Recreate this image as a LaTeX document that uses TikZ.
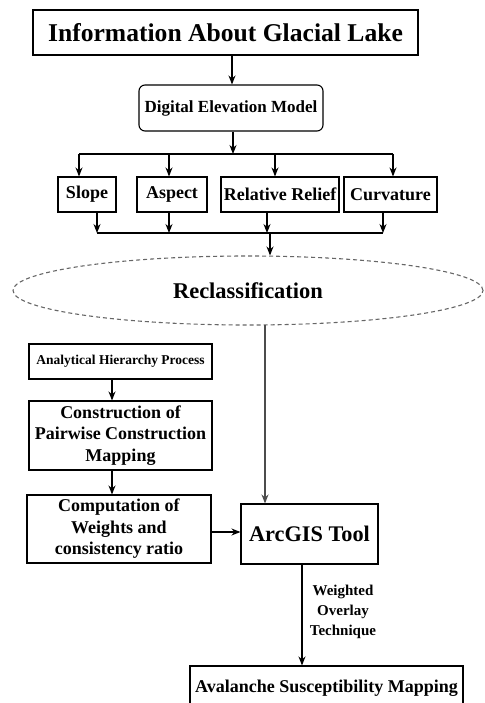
\documentclass[tikz,border=0pt]{standalone}
\usepackage{fontspec}
\setmainfont{Liberation Serif}
\usetikzlibrary{arrows.meta,shapes.geometric}

\begin{document}
\begin{tikzpicture}[x=1pt,y=-1pt,
  box/.style={draw,line width=1.1pt,inner sep=0pt,align=center},
  txt/.style={font=\bfseries\fontsize{#1}{#1}\selectfont},
  >={Stealth[length=9pt,width=7pt]}]
\useasboundingbox (0,0) rectangle (484,703);
\clip (0,0) rectangle (484,703);

\node[box,txt=25.6,minimum width=385,minimum height=45] (info) at (225.5,32.5) {Information About Glacial Lake};
\node[box,txt=17,rounded corners=6pt,minimum width=184,minimum height=46] (dem) at (231,108) {Digital Elevation Model};

\node[box,txt=18,minimum width=58,minimum height=35] (slope) at (87,194.5) {Slope};
\node[box,txt=18,minimum width=70,minimum height=35] (aspect) at (172,194.5) {Aspect};
\node[box,txt=18,minimum width=118,minimum height=35] (relief) at (280,194.5) {Relative Relief};
\node[box,txt=18,minimum width=93,minimum height=35] (curv) at (390.5,194.5) {Curvature};

\node[draw=gray!80!black,dash pattern=on 4pt off 3pt,line width=1.1pt,ellipse,
  minimum width=470,minimum height=69,txt=22.5] (recl) at (248,290.5) {Reclassification};

\node[box,txt=13.5,minimum width=183,minimum height=35] (ahp) at (120.5,361.5) {Analytical Hierarchy Process};
\node[box,font=\bfseries\fontsize{18}{21.5}\selectfont,minimum width=183,minimum height=69] (cons) at (120.5,435.5) {Construction of\\Pairwise Construction\\Mapping};
\node[box,font=\bfseries\fontsize{18}{21.5}\selectfont,minimum width=184,minimum height=68] (comp) at (119,529) {Computation of\\Weights and\\consistency ratio};
\node[box,txt=22.3,minimum width=137,minimum height=60] (arc) at (309.5,534) {ArcGIS Tool};
\node[box,txt=18,minimum width=273,minimum height=44] (final) at (326.5,688) {Avalanche Susceptibility Mapping};
\node[font=\bfseries\fontsize{15}{20}\selectfont,align=center] (wot) at (343,612) {Weighted\\Overlay\\Technique};

\coordinate (top) at (232,0);
\coordinate (split) at (233,154);
\coordinate (s1) at (79,154);
\coordinate (s2) at (169,154);
\coordinate (s3) at (275,154);
\coordinate (s4) at (393,154);
\coordinate (m1) at (97,233);
\coordinate (m2) at (169,233);
\coordinate (m3) at (267,233);
\coordinate (m4) at (383,233);
\coordinate (merge) at (270,233);
\coordinate (down) at (265,325);
\coordinate (left) at (112,0);
\coordinate (side) at (0,532);
\coordinate (out) at (302,0);

\draw[line width=1.1pt,->] (info.south -| top) -- (dem.north -| top);
\draw[line width=1.1pt,->] (dem.south -| split) -- (split);
\draw[line width=1.1pt] (s1) -- (s4);
\draw[line width=1.1pt,->] (s1) -- (s1 |- slope.north);
\draw[line width=1.1pt,->] (s2) -- (s2 |- aspect.north);
\draw[line width=1.1pt,->] (s3) -- (s3 |- relief.north);
\draw[line width=1.1pt,->] (s4) -- (s4 |- curv.north);

\draw[line width=1.1pt,->] (m1 |- slope.south) -- (m1);
\draw[line width=1.1pt,->] (m2 |- aspect.south) -- (m2);
\draw[line width=1.1pt,->] (m3 |- relief.south) -- (m3);
\draw[line width=1.1pt,->] (m4 |- curv.south) -- (m4);
\draw[line width=2.2pt] (m1) -- (m4);
\draw[line width=1.1pt,->] (merge) -- (merge |- recl.north);

\draw[line width=1.1pt,gray!60!black,->] (down) -- (arc.north -| down);
\draw[line width=1.1pt,->] (ahp.south -| left) -- (cons.north -| left);
\draw[line width=1.1pt,->] (cons.south -| left) -- (comp.north -| left);
\draw[line width=1.1pt,->] (comp.east |- side) -- (arc.west |- side);
\draw[line width=1.1pt,->] (arc.south -| out) -- (final.north -| out);
\end{tikzpicture}
\end{document}
